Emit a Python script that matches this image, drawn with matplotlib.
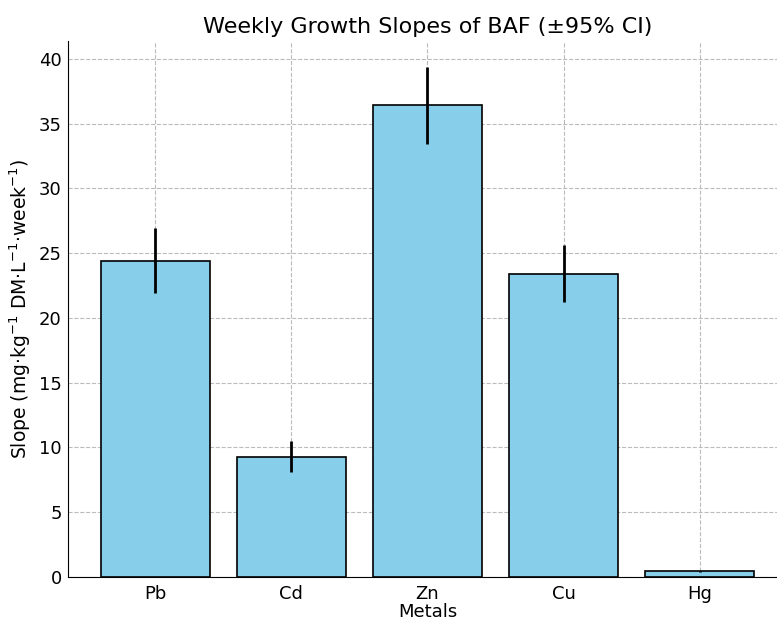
import matplotlib
matplotlib.use("Agg")
import matplotlib.pyplot as plt
import numpy as np

metals = ["Pb", "Cd", "Zn", "Cu", "Hg"]
slopes = [24.4, 9.3, 36.4, 23.4, 0.45]
ci = [2.5, 1.2, 3.0, 2.2, 0.05]
yticks = [0, 5, 10, 15, 20, 25, 30, 35, 40]

fig = plt.figure(figsize=(7.77, 6.25), dpi=100)
ax = fig.add_axes([68/777, 48/625, (787-68)/777, (577-41)/625])
x = np.arange(len(metals))
ax.bar(x, slopes, width=0.8, color="skyblue", edgecolor="black", linewidth=1.2,
       yerr=ci, error_kw=dict(ecolor="black", elinewidth=2, capsize=0))
ax.set_xticks(x)
ax.set_xticklabels(metals, fontsize=13)
ax.set_yticks(yticks)
ax.tick_params(axis="y", labelsize=13, length=0, pad=4.5)
ax.tick_params(axis="x", length=0, pad=5.5)
ax.set_xlabel("Metals", fontsize=13, labelpad=0)
ax.set_ylabel("Slope (mg·kg$^{-1}$ DM·L$^{-1}$·week$^{-1}$)", fontsize=13.5, labelpad=4)
ax.set_title("Weekly Growth Slopes of BAF (±95% CI)", fontsize=16)
ax.grid(True, linestyle="--", color="#bbbbbb", linewidth=0.8)
ax.set_axisbelow(True)
ax.spines["top"].set_visible(False)
ax.spines["right"].set_visible(False)
fig.savefig("out.png", dpi=100)
